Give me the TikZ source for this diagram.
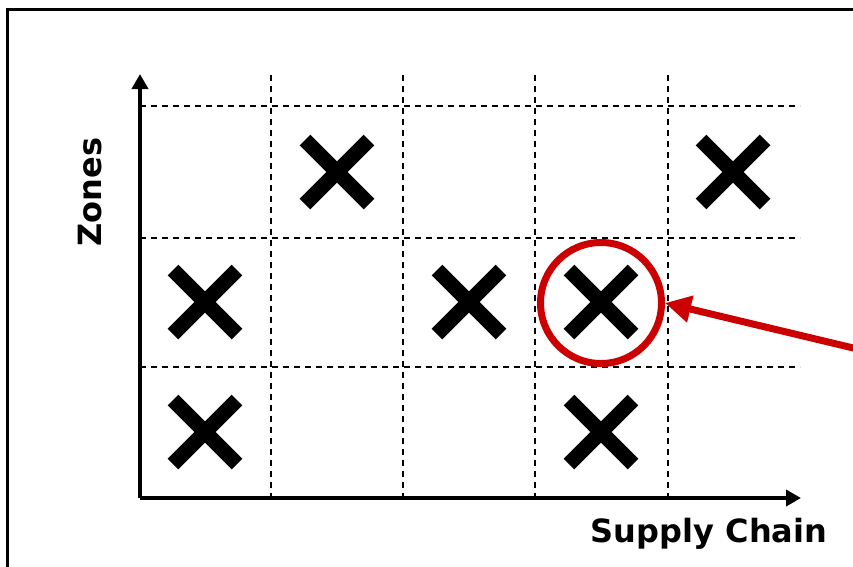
\documentclass[tikz,border=0pt]{standalone}
\usepackage{fontspec}
\setmainfont{DejaVu Sans}
\usetikzlibrary{arrows.meta}
\definecolor{marker}{RGB}{204,0,0}

\begin{document}
\begin{tikzpicture}[
    x=1pt, y=-1pt,
    axis/.style={line width=4pt, -{Triangle[length=15pt, width=16pt]}},
    gridline/.style={line width=1.6pt, dash pattern=on 6pt off 5pt},
    cross/.style={line width=15pt},
    label/.style={font=\fontsize{32}{38}\selectfont\bfseries},
    pointer/.style={line width=7pt, draw=marker, -{Triangle[length=26pt, width=26pt]}},
]
\useasboundingbox (0,0) rectangle (853,566);
\clip (0,0) rectangle (853,566);

% === FRAME ===
\draw[line width=3pt] (7,9) rectangle (900,620);

% === GRID ===
\foreach \gx in {271,403,535,668}
  \draw[gridline] (\gx,75) -- (\gx,498);
\foreach \gy in {106,238,367}
  \draw[gridline] (140,\gy) -- (800,\gy);

% === AXES ===
\coordinate (origin) at (140,498);
\coordinate (ytip) at (140,74);
\coordinate (xtip) at (801,498);
\draw[axis] (origin) -- (ytip);
\draw[axis] (origin) -- (xtip);

\node[label, rotate=90] (zones) at (90,192) {Zones};
\node[label] (supply) at (709,534) {Supply Chain};

% === MARKS ===
\foreach \cx/\cy in {337/172, 733/172, 205/302, 469/302, 601/302, 205/432, 601/432}
  \draw[cross] (\cx-32,\cy-32) -- (\cx+32,\cy+32)
               (\cx-32,\cy+32) -- (\cx+32,\cy-32);

% === HIGHLIGHT ===
\node[circle, draw=marker, line width=7pt, minimum size=121pt, inner sep=0pt] (hit) at (601,303) {};
\coordinate (from) at (870,352);
\draw[pointer] (from) -- (hit.east);

\end{tikzpicture}
\end{document}
